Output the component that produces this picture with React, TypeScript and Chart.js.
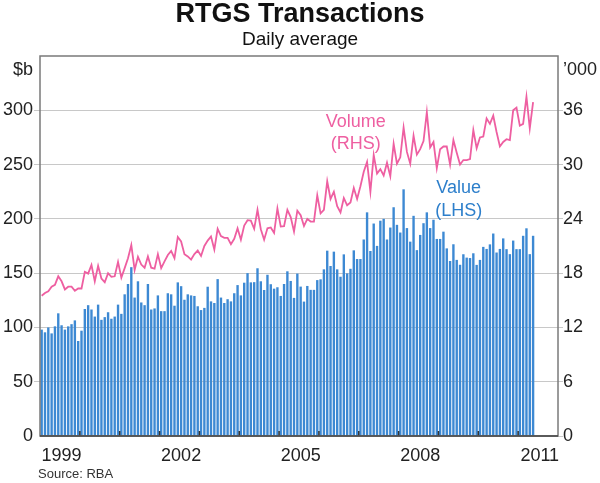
import { useEffect, useRef } from 'react'
import { Chart, registerables } from 'chart.js'

Chart.register(...registerables)

const startYear = 1999
const endYear = 2011
const yearLabels = ['1999', '2002', '2005', '2008', '2011']

// monthly categories, Jan 1999 to Dec 2011 (data ends May 2011)
const months: string[] = []
for (let y = startYear; y <= endYear; y++) {
  for (let m = 1; m <= 12; m++) months.push(`${y}-${String(m).padStart(2, '0')}`)
}

// Value, $b (LHS)
const valueData = [
  98, 95.5, 100, 94.5, 101, 113, 102, 98, 101, 103, 106.5, 87.5,
  97, 117, 120.5, 116.5, 110, 121, 107, 109.5, 114, 108, 110, 121,
  112.5, 130.5, 140, 155.5, 127.5, 142.5, 123, 120.5, 140, 116.5, 117.5, 129.5,
  115, 115, 131.5, 130.5, 120, 141.5, 138, 125.5, 130.5, 129.5, 129, 119.5,
  116, 118, 137.5, 124, 122.5, 144.5, 127.5, 122.5, 126, 124, 131.5, 139,
  129.5, 141.2, 150, 141.5, 141.7, 154.5, 142.5, 134.5, 148.5, 139.8, 135.7, 137,
  129, 140, 151.7, 142.8, 127.2, 149.6, 137.6, 123.8, 138.2, 134.6, 134.6, 143.6,
  144.3, 153.5, 170.7, 156.6, 169.8, 153.5, 146.7, 167.3, 149.8, 154, 171, 163,
  163, 181, 206, 170.4, 195.7, 175.1, 198.3, 200, 181, 192, 210.7, 194.5,
  187.4, 227.2, 191.5, 179, 202.8, 171.2, 185.2, 196, 206, 191.5, 199.2, 181.5,
  181.5, 188.2, 172.8, 161.2, 176.6, 162.2, 157.7, 167.4, 164.3, 163.9, 168.3, 157.6,
  162.2, 174.2, 172.3, 176.5, 186.5, 169, 172.3, 182, 172.1, 167.5, 180, 172.1,
  172.1, 184.4, 191.3, 167.5, 184.4,
]

// Volume, '000 (RHS)
const volumeData = [
  15.5, 15.8, 16.0, 16.5, 16.7, 17.65, 17.1, 16.2, 16.5, 16.5, 16.05, 16.3,
  16.3, 18.15, 17.95, 18.9, 17.1, 18.8, 17.4, 17.0, 18.0, 17.6, 17.65, 19.25,
  17.5, 18.55, 19.65, 21.1, 18.35, 19.8, 18.95, 18.6, 19.85, 18.6, 18.5, 20.1,
  18.55, 19.3, 20.0, 20.45, 19.65, 22.0, 21.5, 20.1, 19.85, 19.5, 20.1, 20.5,
  19.9, 21.0, 21.6, 22.05, 20.6, 22.9, 22.1, 21.9, 21.9, 21.2, 21.8, 22.95,
  21.7, 23.25, 23.85, 23.8, 22.9, 25.0, 22.85, 21.7, 22.95, 23.05, 22.45, 25.15,
  23.15, 23.2, 25.0, 24.2, 22.6, 24.9, 24.4, 23.2, 24.0, 23.7, 23.7, 26.6,
  24.6, 25.0, 28.15, 26.2, 27.0, 25.4, 24.7, 26.3, 25.5, 25.8, 27.4, 26.2,
  27.6, 29.2, 30.3, 27.0, 31.05, 29.0, 29.5, 28.8, 30.2, 28.7, 32.3, 30.1,
  30.8, 34.1, 31.4, 30.1, 33.2, 31.1, 31.7, 32.6, 35.8, 31.9, 32.5, 29.6,
  31.7, 32.0, 32.0, 30.0, 32.7, 31.3, 30.0, 30.5, 30.5, 30.6, 33.8, 31.8,
  33.0, 33.1, 35.1, 34.5, 35.4, 33.6, 32.0, 32.5, 32.8, 32.7, 36.0, 36.3,
  34.3, 34.5, 37.5, 34.0, 36.9,
]

const FONT = '"Liberation Sans", Arial, sans-serif'
const PINK = '#ee5fa1'
const BLUE = '#3d89d3'
const GRID = '#c8c8c8'

const decor = {
  id: 'decor',
  afterDatasetsDraw(chart: any) {
    const { ctx, chartArea: a, scales } = chart
    const x = scales.x
    ctx.save()
    // year tick marks inside the plot
    ctx.strokeStyle = '#333'
    ctx.lineWidth = 1.5
    for (let i = 12; i < months.length; i += 12) {
      const px = (x.getPixelForValue(i - 1) + x.getPixelForValue(i)) / 2
      ctx.beginPath()
      ctx.moveTo(px, a.bottom)
      ctx.lineTo(px, a.bottom - 5)
      ctx.stroke()
    }
    // frame
    ctx.strokeStyle = '#7a7a7a'
    ctx.lineWidth = 1.5
    ctx.strokeRect(a.left, a.top, a.right - a.left, a.bottom - a.top)
    ctx.strokeStyle = '#444'
    ctx.beginPath()
    ctx.moveTo(a.left, a.bottom)
    ctx.lineTo(a.right, a.bottom)
    ctx.stroke()
    ctx.restore()
  },
  afterDraw(chart: any) {
    const { ctx, chartArea: a, scales } = chart
    const x = scales.x
    ctx.save()
    ctx.textAlign = 'center'
    ctx.textBaseline = 'alphabetic'
    ctx.fillStyle = '#111'
    ctx.font = `bold 27px ${FONT}`
    ctx.fillText('RTGS Transactions', 300, 22)
    ctx.font = `19px ${FONT}`
    ctx.fillText('Daily average', 300, 45)

    // axis units
    ctx.font = `18px ${FONT}`
    ctx.fillStyle = '#222'
    ctx.textAlign = 'right'
    ctx.fillText('$b', a.left - 7, 75)
    ctx.textAlign = 'left'
    ctx.fillText('’000', a.right + 5, 75)

    // series labels
    ctx.textAlign = 'center'
    ctx.fillStyle = PINK
    const vx = x.getPixelForValue(94.6)
    ctx.fillText('Volume', vx, scales.y2.getPixelForValue(34.15))
    ctx.fillText('(RHS)', vx, scales.y2.getPixelForValue(31.7))
    ctx.fillStyle = '#2d7fcb'
    const lx = x.getPixelForValue(125.6)
    ctx.fillText('Value', lx, scales.y.getPixelForValue(223.8))
    ctx.fillText('(LHS)', lx, scales.y.getPixelForValue(202.6))

    // source
    ctx.fillStyle = '#333'
    ctx.textAlign = 'left'
    ctx.font = `13px ${FONT}`
    ctx.fillText('Source: RBA', 38, 478)
    ctx.restore()
  },
}

function RtgsChart() {
  const canvasRef = useRef<HTMLCanvasElement>(null)
  const chartRef = useRef<Chart | null>(null)

  useEffect(() => {
    const canvas = canvasRef.current
    if (!canvas) return
    if (chartRef.current) {
      chartRef.current.destroy()
      chartRef.current = null
    }

    chartRef.current = new Chart(canvas, {
      type: 'bar',
      data: {
        labels: months,
        datasets: [
          {
            type: 'line',
            label: 'Volume',
            data: volumeData,
            yAxisID: 'y2',
            borderColor: PINK,
            borderWidth: 1.8,
            pointRadius: 0,
            tension: 0,
            order: 0,
          },
          {
            type: 'bar',
            label: 'Value',
            data: valueData,
            yAxisID: 'y',
            backgroundColor: BLUE,
            borderWidth: 0,
            barPercentage: 0.72,
            categoryPercentage: 1,
            order: 1,
          },
        ],
      },
      options: {
        animation: false,
        responsive: true,
        maintainAspectRatio: false,
        layout: { padding: { top: 56, left: 0, right: 0, bottom: 0 } },
        plugins: {
          legend: { display: false },
          tooltip: { enabled: false },
          title: { display: false },
        },
        scales: {
          x: {
            type: 'category',
            offset: true,
            grid: { display: false },
            border: { display: false },
            afterFit: (s: any) => { s.height = 47 },
            ticks: {
              autoSkip: false,
              maxRotation: 0,
              minRotation: 0,
              padding: 1,
              color: '#222',
              font: { family: FONT, size: 18 },
              callback: (_v: any, i: number) => {
                const yr = months[i].slice(0, 4)
                return months[i].endsWith('-07') && yearLabels.includes(yr) ? yr : ''
              },
            },
          },
          y: {
            position: 'left',
            min: 0,
            max: 350,
            border: { display: false },
            afterFit: (s: any) => { s.width = 40 },
            grid: {
              color: (c: any) => (c.tick && (c.tick.value === 0 || c.tick.value === 350) ? 'rgba(0,0,0,0)' : GRID),
              lineWidth: 1,
              tickLength: 6,
            },
            ticks: {
              stepSize: 50,
              padding: 1,
              color: '#222',
              font: { family: FONT, size: 18 },
              callback: (v: any) => (v === 350 ? '' : String(v)),
            },
          },
          y2: {
            position: 'right',
            min: 0,
            max: 42,
            border: { display: false },
            afterFit: (s: any) => { s.width = 42 },
            grid: {
              drawOnChartArea: false,
              color: (c: any) => (c.tick && c.tick.value === 42 ? 'rgba(0,0,0,0)' : GRID),
              tickLength: 5,
            },
            ticks: {
              stepSize: 6,
              padding: 0,
              color: '#222',
              font: { family: FONT, size: 18 },
              callback: (v: any) => (v === 42 ? '' : String(v)),
            },
          },
        },
      },
      plugins: [decor],
    } as any)

    return () => {
      if (chartRef.current) {
        chartRef.current.destroy()
        chartRef.current = null
      }
    }
  }, [])

  return (
    <div style={{ position: 'relative', width: 600, height: 483 }}>
      <canvas ref={canvasRef} />
    </div>
  )
}

export default function App() {
  useEffect(() => {
    document.body.style.margin = '0'
    document.body.style.background = '#fff'
  }, [])
  return <RtgsChart />
}
